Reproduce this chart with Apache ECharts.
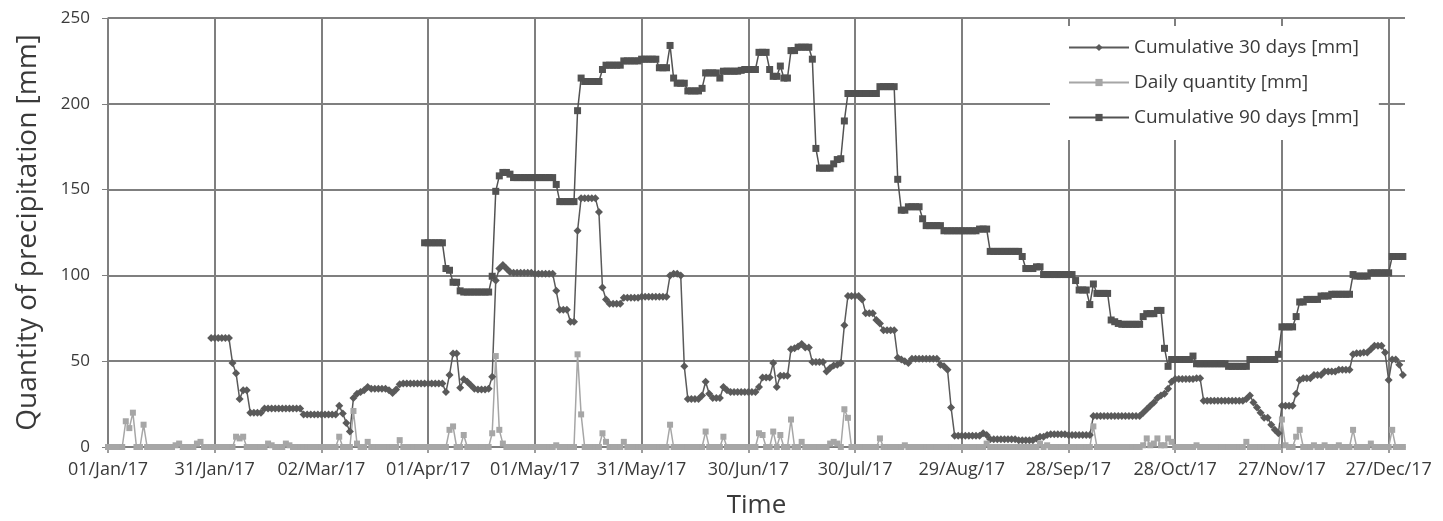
<!DOCTYPE html>
<html>
<head>
<meta charset="utf-8">
<script src="https://cdn.jsdelivr.net/npm/echarts@6/dist/echarts.min.js"></script>
<style>
  html, body { margin: 0; padding: 0; background: #fff; }
  #chart { width: 1443px; height: 521px; }
</style>
</head>
<body>
<div id="chart"></div>
<script>
// x axis = day of 2017 (0 = 01/Jan/17), one gridline every 30 days
const tickLabels = ['01/Jan/17', '31/Jan/17', '02/Mar/17', '01/Apr/17', '01/May/17', '31/May/17', '30/Jun/17',
  '30/Jul/17', '29/Aug/17', '28/Sep/17', '28/Oct/17', '27/Nov/17', '27/Dec/17']

// daily precipitation [mm], day 0..364 (rows of 30 days)
const daily = [
  0, 0, 0, 0, 0, 15, 11, 20, 0, 0, 13, 0, 0, 0, 0, 0, 0, 0, 0, 1, 2, 0, 0, 0, 0, 2, 3, 0, 0, 0,
  0, 0, 0, 0, 0, 0, 6, 5, 6, 0, 0, 0, 0, 0, 0, 2, 1, 0, 0, 0, 2, 1, 0, 0, 0, 0, 0, 0, 0, 0,
  0, 0, 0, 0, 0, 6, 0, 0, 0, 21, 2, 0, 0, 3, 0, 0, 0, 0, 0, 0, 0, 0, 4, 0, 0, 0, 0, 0, 0, 0,
  0, 0, 0, 0, 0, 0, 10, 12, 0, 0, 7, 0, 0, 0, 0, 0, 0, 0, 8, 53, 10, 2, 0, 0, 0, 0, 0, 0, 0, 0,
  0, 0, 0, 0, 0, 0, 1, 0, 0, 0, 0, 0, 54, 19, 0, 0, 0, 0, 0, 8, 3, 0, 0, 0, 0, 3, 0, 0, 0, 0,
  0, 0, 0, 0, 0, 0, 0, 0, 13, 0, 0, 0, 0, 0, 0, 0, 0, 0, 9, 0, 0, 0, 0, 6, 0, 0, 0, 0, 0, 0,
  0, 0, 0, 8, 7, 0, 0, 9, 0, 7, 0, 0, 16, 0, 0, 3, 0, 0, 0, 0, 0, 0, 0, 2, 3, 2, 0, 22, 17, 0,
  0, 0, 0, 0, 0, 0, 0, 5, 0, 0, 0, 0, 0, 0, 1, 0, 0, 0, 0, 0, 0, 0, 0, 0, 0, 0, 0, 0, 0, 0,
  0, 0, 0, 0, 0, 0, 0, 2, 0, 0, 0, 0, 0, 0, 0, 0, 0, 0, 0, 0, 0, 0, 2, 0, 1, 0, 0, 0, 0, 0,
  0, 0, 0, 0, 0, 0, 0, 12, 0, 0, 0, 0, 0, 0, 0, 0, 0, 0, 0, 0, 0, 1, 5, 1, 2, 5, 1, 1, 5, 3,
  0, 0, 0, 0, 0, 0, 1, 0, 0, 0, 0, 0, 0, 0, 0, 0, 0, 0, 0, 0, 3, 0, 0, 0, 0, 0, 0, 0, 0, 0,
  16, 1, 0, 0, 6, 10, 0, 0, 0, 1, 0, 0, 1, 0, 0, 0, 1, 0, 0, 0, 10, 0, 0, 0, 0, 2, 0, 0, 0, 0,
  0, 10, 0, 0, 0
]

// cumulative 30 days [mm], first value is day 29
const cum30Start = 29
const cum30 = [
  63.5,
  63.5, 63.5, 63.5, 63.5, 63.5, 49, 43, 28, 33, 33, 20, 20, 20, 20, 22.5, 22.5, 22.5, 22.5, 22.5, 22.5, 22.5, 22.5, 22.5, 22.5, 22.5, 19, 19, 19, 19, 19,
  19, 19, 19, 19, 19, 24, 19.5, 14, 9, 28.5, 31, 32, 33, 35, 34, 34, 34, 34, 34, 33, 31.5, 33.5, 36.5, 37, 37, 37, 37, 37, 37, 37,
  37, 37, 37, 37, 37, 32, 42, 54.5, 54.5, 34.5, 39.5, 38, 36, 34, 33.5, 33.5, 33.5, 34, 41, 97, 104, 106, 104, 102, 101.5, 101.5, 101.5, 101.5, 101.5, 101.5,
  101, 101, 101, 101, 101, 101, 91, 80, 80, 80, 73, 73, 126, 145, 145, 145, 145, 145, 137, 93, 86, 83.5, 83.5, 83.5, 83.5, 87, 87, 87, 87, 87,
  87.5, 87.5, 87.5, 87.5, 87.5, 87.5, 87.5, 87.5, 100, 101, 101, 100, 47, 28, 28, 28, 28, 30, 38, 31, 28.5, 28.5, 28.5, 35, 33, 32, 32, 32, 32, 32,
  32, 32, 32, 35, 40.5, 40.5, 40.5, 49, 35, 41.5, 41.5, 41.5, 57, 57.5, 58.5, 60, 58, 58, 49.5, 49.5, 49.5, 49.5, 44, 46, 47.5, 48, 49, 71, 88, 88,
  88, 88, 86, 78, 78, 78, 74, 72, 68, 68, 68, 68, 52, 51, 50, 49, 51.4, 51.4, 51.4, 51.4, 51.4, 51.4, 51.4, 51.4, 48, 47, 45, 23, 6.6, 6.6,
  6.6, 6.6, 6.6, 6.6, 6.6, 6.6, 8, 7, 4.5, 4.5, 4.5, 4.5, 4.5, 4.5, 4.5, 4.5, 4, 4, 4, 4, 4, 5, 6, 6, 7, 7.5, 7.5, 7.5, 7.5, 7.5,
  7, 7, 7, 7, 7, 7, 7, 18, 18, 18, 18, 18, 18, 18, 18, 18, 18, 18, 18, 18, 18, 20, 22, 24, 26, 28.5, 30, 31, 34, 38,
  39.6, 39.6, 39.6, 39.6, 39.6, 39.6, 40, 40, 27, 27, 27, 27, 27, 27, 27, 27, 27, 27, 27, 27, 28, 30, 26, 23, 20, 17, 17, 13, 10, 8,
  24, 24, 24, 24, 31, 39, 40, 40, 40, 42, 42, 42, 44, 44, 44, 44, 45, 45, 45, 45, 54, 54.6, 54.6, 55, 55, 57, 59, 59, 59, 55,
  39, 51, 51, 48, 42
]

// cumulative 90 days [mm], first value is day 89
const cum90Start = 89
const cum90 = [
  119,
  119, 119, 119, 119, 119, 104, 103, 96, 96, 91, 90.3, 90.3, 90.3, 90.3, 90.3, 90.3, 90.3, 90.3, 99.5, 149, 158, 160, 160, 159, 157, 157, 157, 157, 157, 157,
  157, 157, 157, 157, 157, 157, 153, 143, 143, 143, 143, 143, 196, 215, 213, 213, 213, 213, 213, 220, 222.5, 222.5, 222.5, 222.5, 222.5, 225, 225, 225, 225, 225,
  226, 226, 226, 226, 226, 221, 221, 221, 234, 215, 212, 212, 212, 207.5, 207.5, 207.5, 207.5, 209, 218, 218, 218, 218, 215, 219, 219, 219, 219, 219, 219.5, 220,
  220, 220, 220, 230, 230, 230, 220, 216, 216, 222, 215, 215, 231, 231, 233, 233, 233, 233, 226, 174, 162.5, 162.5, 162.5, 162.5, 165, 167.5, 168, 190, 206, 206,
  206, 206, 206, 206, 206, 206, 206, 210, 210, 210, 210, 210, 156, 138, 138, 140, 140, 140, 140, 133, 129, 129, 129, 129, 129, 126, 126, 126, 126, 126,
  126, 126, 126, 126, 126, 127, 127, 127, 114, 114, 114, 114, 114, 114, 114, 114, 114, 111, 104, 104, 104, 105, 105, 100.5, 100.5, 100.5, 100.5, 100.5, 100.5, 100.5,
  100.5, 100.5, 97, 91.5, 91.5, 91.5, 83, 95, 89.5, 89.5, 89.5, 89.5, 74, 73, 72, 71.5, 71.5, 71.5, 71.5, 71.5, 71.5, 76, 77.7, 77.7, 77.7, 79.6, 79.6, 57.5, 47, 51,
  51, 51, 51, 51, 51, 53, 48.5, 48.5, 48.5, 48.5, 48.5, 48.5, 48.5, 48.5, 48.5, 47, 47, 47, 47, 47, 47, 51, 51, 51, 51, 51, 51, 51, 51, 54,
  70, 70, 70, 70, 76, 84.5, 84.5, 86, 86, 86, 86, 88, 88, 88, 89, 89, 89, 89, 89, 89, 100.5, 99.6, 99.6, 99.6, 99.6, 101.5, 101.5, 101.5, 101.5, 101.5,
  101.5, 111, 111, 111, 111
]

const toPairs = (arr, start) => arr.map((v, i) => [i + start, v])

const chart = echarts.init(document.getElementById('chart'))
const gridColor = '#7f7f7f'
const textColor = '#3a3a3a'
const font = "'Open Sans', sans-serif"

chart.setOption({
  animation: false,
  textStyle: { fontFamily: font },
  // keep the plot box fixed, labels may sit close to the edges
  grid: { left: 108, right: 38, top: 18, bottom: 74, outerBoundsMode: 'none' },
  legend: {
    orient: 'vertical',
    left: 1050,
    top: 26,
    backgroundColor: '#fff',
    padding: [12, 20, 13, 18],
    itemWidth: 60,
    itemHeight: 9,
    itemGap: 16,
    textStyle: { fontSize: 19, color: textColor, fontFamily: font, padding: [2, 0, 0, 0] },
    data: ['Cumulative 30 days [mm]', 'Daily quantity [mm]', 'Cumulative 90 days [mm]']
  },
  xAxis: {
    type: 'value',
    min: 0,
    max: 364.6,
    interval: 30,
    name: 'Time',
    nameLocation: 'middle',
    nameGap: 46,
    nameTextStyle: { fontSize: 26, color: textColor },
    axisLine: { lineStyle: { color: gridColor, width: 1.5 } },
    axisTick: { show: true, length: 6, lineStyle: { color: gridColor, width: 1.5 } },
    axisLabel: {
      fontSize: 18,
      color: textColor,
      margin: 14,
      showMaxLabel: false,
      formatter: v => (v % 30 === 0 && tickLabels[v / 30]) || ''
    },
    splitLine: { show: true, showMaxLine: false, lineStyle: { color: gridColor, width: 2 } }
  },
  yAxis: {
    type: 'value',
    min: 0,
    max: 250,
    interval: 50,
    name: 'Quantity of precipitation [mm]',
    nameLocation: 'middle',
    nameGap: 66,
    nameTextStyle: { fontSize: 28, color: textColor },
    axisLine: { show: true, lineStyle: { color: gridColor, width: 1.5 } },
    axisTick: { show: true, length: 6, lineStyle: { color: gridColor } },
    axisLabel: { fontSize: 17, color: textColor, margin: 18 },
    splitLine: { lineStyle: { color: gridColor, width: 2 } }
  },
  series: [
    {
      name: 'Cumulative 30 days [mm]',
      type: 'line',
      data: toPairs(cum30, cum30Start),
      symbol: 'diamond',
      symbolSize: 8,
      color: '#5a5a5a',
      lineStyle: { width: 1.5, color: '#5a5a5a' }
    },
    {
      name: 'Daily quantity [mm]',
      type: 'line',
      data: toPairs(daily, 0),
      symbol: 'rect',
      symbolSize: 6,
      color: '#a6a6a6',
      lineStyle: { width: 1.5, color: '#a6a6a6' }
    },
    {
      name: 'Cumulative 90 days [mm]',
      type: 'line',
      data: toPairs(cum90, cum90Start),
      symbol: 'rect',
      symbolSize: 7,
      color: '#525252',
      lineStyle: { width: 1.5, color: '#525252' }
    }
  ]
})
</script>
</body>
</html>
